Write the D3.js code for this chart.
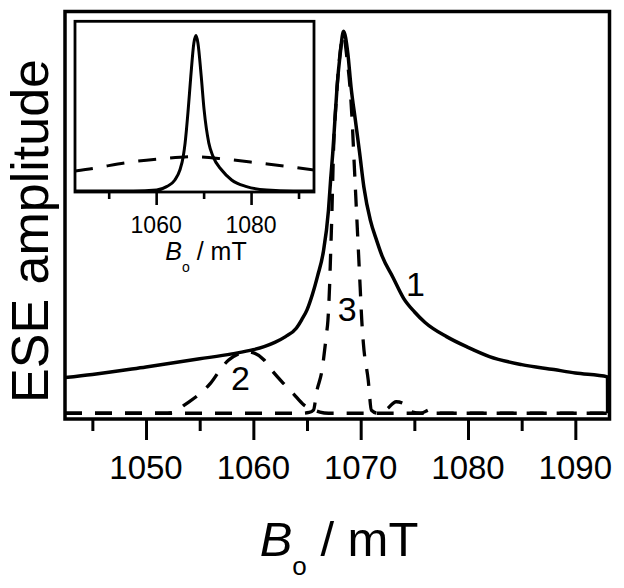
<!DOCTYPE html>
<html>
<head>
<meta charset="utf-8">
<script src="https://cdn.jsdelivr.net/npm/d3@7"></script>
<style>
  html, body { margin: 0; padding: 0; background: #fff; }
  svg { display: block; }
  text { font-family: "Liberation Sans", Arial, sans-serif; fill: #000; }
</style>
</head>
<body>
<svg id="chart" width="624" height="588"></svg>
<script>
// ---------------- data ----------------
// Curve 1 (solid, measured ESE spectrum)
const curve1Field = [1042.45, 1045, 1050, 1055, 1058, 1060, 1061, 1062, 1063, 1064, 1064.5, 1065, 1065.5, 1066, 1066.5, 1067, 1067.2, 1067.4, 1067.6, 1067.8, 1068.1, 1068.4, 1068.8, 1069.1, 1069.5, 1069.9, 1070.3, 1070.9, 1071.5, 1072, 1073, 1074, 1075, 1076, 1078, 1080, 1082, 1085, 1088, 1090, 1093.0, 1093.01];
const curve1Amp   = [0.093, 0.101, 0.121, 0.142, 0.155, 0.166, 0.174, 0.185, 0.200, 0.222, 0.244, 0.27, 0.31, 0.36, 0.418, 0.53, 0.61, 0.68, 0.766, 0.852, 0.94, 0.997, 0.94, 0.852, 0.766, 0.68, 0.59, 0.504, 0.45, 0.41, 0.355, 0.30, 0.265, 0.237, 0.20, 0.172, 0.148, 0.127, 0.114, 0.105, 0.095, 0.0];

// Curve 2 (dashed, broad component)
const curve2Field = [1042.45, 1052.0, 1052.7, 1053.5, 1055.06, 1056.0, 1057.1, 1057.7, 1058.6, 1059.3, 1060.1, 1061.0, 1061.7, 1062.8, 1063.7, 1064.7, 1065.6, 1066.2, 1067, 1093.23];
const curve2Amp   = [0, 0, 0.004, 0.02, 0.052, 0.078, 0.121, 0.139, 0.155, 0.161, 0.157, 0.139, 0.113, 0.078, 0.052, 0.022, 0.009, 0.003, 0, 0];

// Curve 3 (dashed, narrow component)
const curve3Field = [1042.45, 1064.5, 1065.2, 1065.6, 1065.9, 1066.4, 1066.8, 1066.95, 1067.1, 1067.2, 1067.3, 1067.38, 1067.46, 1067.7, 1068.0, 1068.4, 1068.75, 1069.0, 1069.2, 1069.35, 1069.5, 1069.65, 1069.8, 1069.95, 1070.1, 1070.25, 1070.7, 1071.0, 1071.6, 1072.4, 1073.3, 1074.0, 1074.7, 1075.6, 1076.5, 1077.3, 1093.23];
const curve3Amp   = [0, 0, 0.002, 0.008, 0.056, 0.113, 0.204, 0.243, 0.33, 0.417, 0.504, 0.591, 0.679, 0.809, 0.92, 0.985, 0.92, 0.852, 0.766, 0.679, 0.591, 0.504, 0.417, 0.33, 0.243, 0.183, 0.087, 0.008, 0, 0.01, 0.03, 0.025, 0.004, 0, 0.01, 0, 0];

// Inset curves
const insetSolidField = [1042.9, 1055.2, 1060.1, 1062.2, 1063.95, 1065.0, 1065.7, 1066.1, 1066.75, 1067.3, 1067.95, 1068.4, 1068.8, 1069.5, 1070.1, 1071.1, 1072.0, 1073.8, 1075.9, 1079.05, 1083.3, 1088.9, 1093.3];
const insetSolidAmp   = [0, 0, 0.006, 0.028, 0.071, 0.135, 0.221, 0.308, 0.523, 0.737, 0.953, 1.0, 0.953, 0.737, 0.523, 0.308, 0.221, 0.135, 0.071, 0.028, 0.006, 0, 0];
const insetDashField  = [1042.9, 1046.8, 1053.8, 1060.8, 1067.8, 1074.8, 1081.85, 1088.9, 1093.3];
const insetDashAmp    = [0.129, 0.146, 0.183, 0.206, 0.221, 0.204, 0.179, 0.153, 0.135];

// Ticks and labels
const mainMajorTicks = [1050, 1060, 1070, 1080, 1090];
const mainMinorTicks = [1045, 1055, 1065, 1075, 1085];
const insetMajorTicks = [1060, 1080];
const insetMinorTicks = [1050, 1070, 1090];
const curveLabels = [
  { text: "1", field: 1075.1, amp: 0.305 },
  { text: "2", field: 1058.8, amp: 0.061 },
  { text: "3", field: 1068.75, amp: 0.241 }
];
const yTitle = "ESE amplitude";

// ---------------- layout ----------------
const svg = d3.select("#chart");
const box = { left: 65, top: 11.5, right: 609.5, bottom: 419 };
const inset = { left: 75, top: 21.3, right: 314, bottom: 192 };

const x = d3.scaleLinear().domain([1042.45, 1093.23]).range([box.left, box.right + 0.5]);
const y = d3.scaleLinear().domain([-0.015, 1.05]).range([box.bottom, box.top - 0.5]);

const xi = d3.scaleLinear().domain([1042.9, 1093.26]).range([inset.left, inset.right]);
const yi = d3.scaleLinear().domain([-0.0065, 1.092]).range([inset.bottom, inset.top]);

const defs = svg.append("defs");
defs.append("clipPath").attr("id", "clipMain").append("rect")
  .attr("x", box.left).attr("y", box.top)
  .attr("width", box.right - box.left).attr("height", box.bottom - box.top);
defs.append("clipPath").attr("id", "clipInset").append("rect")
  .attr("x", inset.left).attr("y", inset.top)
  .attr("width", inset.right - inset.left).attr("height", inset.bottom - inset.top);

const zipPts = (fx, fy) => fx.map((f, i) => [f, fy[i]]);

const lineMain = d3.line().x(d => x(d[0])).y(d => y(d[1])).curve(d3.curveMonotoneX);
const lineInset = d3.line().x(d => xi(d[0])).y(d => yi(d[1])).curve(d3.curveMonotoneX);

// main curves
const gMain = svg.append("g").attr("clip-path", "url(#clipMain)");
gMain.append("path").datum(zipPts(curve2Field, curve2Amp))
  .attr("d", lineMain).attr("fill", "none").attr("stroke", "#000")
  .attr("stroke-width", 3.3).attr("stroke-dasharray", "17,13");
gMain.append("path").datum(zipPts(curve3Field, curve3Amp))
  .attr("d", lineMain).attr("fill", "none").attr("stroke", "#000")
  .attr("stroke-width", 3.3).attr("stroke-dasharray", "17,13");
gMain.append("path").datum(zipPts(curve1Field, curve1Amp))
  .attr("d", lineMain).attr("fill", "none").attr("stroke", "#000")
  .attr("stroke-width", 3.5).attr("stroke-linejoin", "round");

// curve number labels
svg.append("g").selectAll("text").data(curveLabels).join("text")
  .attr("x", d => x(d.field)).attr("y", d => y(d.amp))
  .attr("text-anchor", "middle").attr("font-size", 34)
  .text(d => d.text);

// main frame
svg.append("rect")
  .attr("x", box.left).attr("y", box.top)
  .attr("width", box.right - box.left).attr("height", box.bottom - box.top)
  .attr("fill", "none").attr("stroke", "#000").attr("stroke-width", 3.5);

// main x axis ticks
const axMajor = d3.axisBottom(x).tickValues(mainMajorTicks).tickSize(21).tickFormat("");
const axMinor = d3.axisBottom(x).tickValues(mainMinorTicks).tickSize(12).tickFormat("");
[axMajor, axMinor].forEach(ax => {
  const g = svg.append("g").attr("transform", `translate(0,${box.bottom})`).call(ax);
  g.select(".domain").remove();
  g.selectAll(".tick line").attr("stroke", "#000").attr("stroke-width", 3);
});
svg.append("g").selectAll("text").data(mainMajorTicks).join("text")
  .attr("x", d => x(d)).attr("y", 479)
  .attr("text-anchor", "middle").attr("font-size", 33)
  .text(d => d);

// main x title
const xt = svg.append("text").attr("x", 339).attr("y", 556)
  .attr("text-anchor", "middle").attr("font-size", 49);
xt.append("tspan").attr("font-style", "italic").text("B");
xt.append("tspan").attr("font-size", 26).attr("dy", 19).text("o");
xt.append("tspan").attr("dy", -19).text(" / mT");

// y title
svg.append("text")
  .attr("transform", "translate(48,231) rotate(-90)")
  .attr("text-anchor", "middle").attr("font-size", 52)
  .text(yTitle);

// ---------------- inset ----------------
svg.append("rect")
  .attr("x", inset.left).attr("y", inset.top)
  .attr("width", inset.right - inset.left).attr("height", inset.bottom - inset.top)
  .attr("fill", "#fff");
const gIn = svg.append("g").attr("clip-path", "url(#clipInset)");
gIn.append("path").datum(zipPts(insetDashField, insetDashAmp))
  .attr("d", lineInset).attr("fill", "none").attr("stroke", "#000")
  .attr("stroke-width", 3).attr("stroke-dasharray", "18,14");
gIn.append("path").datum(zipPts(insetSolidField, insetSolidAmp))
  .attr("d", lineInset).attr("fill", "none").attr("stroke", "#000")
  .attr("stroke-width", 3).attr("stroke-linejoin", "round");
svg.append("rect")
  .attr("x", inset.left).attr("y", inset.top)
  .attr("width", inset.right - inset.left).attr("height", inset.bottom - inset.top)
  .attr("fill", "none").attr("stroke", "#000").attr("stroke-width", 2.8);

const iaMajor = d3.axisBottom(xi).tickValues(insetMajorTicks).tickSize(13).tickFormat("");
const iaMinor = d3.axisBottom(xi).tickValues(insetMinorTicks).tickSize(7).tickFormat("");
[iaMajor, iaMinor].forEach(ax => {
  const g = svg.append("g").attr("transform", `translate(0,${inset.bottom})`).call(ax);
  g.select(".domain").remove();
  g.selectAll(".tick line").attr("stroke", "#000").attr("stroke-width", 2.6);
});
svg.append("g").selectAll("text").data(insetMajorTicks).join("text")
  .attr("x", d => xi(d)).attr("y", 233)
  .attr("text-anchor", "middle").attr("font-size", 23)
  .text(d => d);

const it = svg.append("text").attr("x", 206).attr("y", 260)
  .attr("text-anchor", "middle").attr("font-size", 25);
it.append("tspan").attr("font-style", "italic").text("B");
it.append("tspan").attr("font-size", 14).attr("dy", 12).text("o");
it.append("tspan").attr("dy", -12).text(" / mT");
</script>
</body>
</html>
